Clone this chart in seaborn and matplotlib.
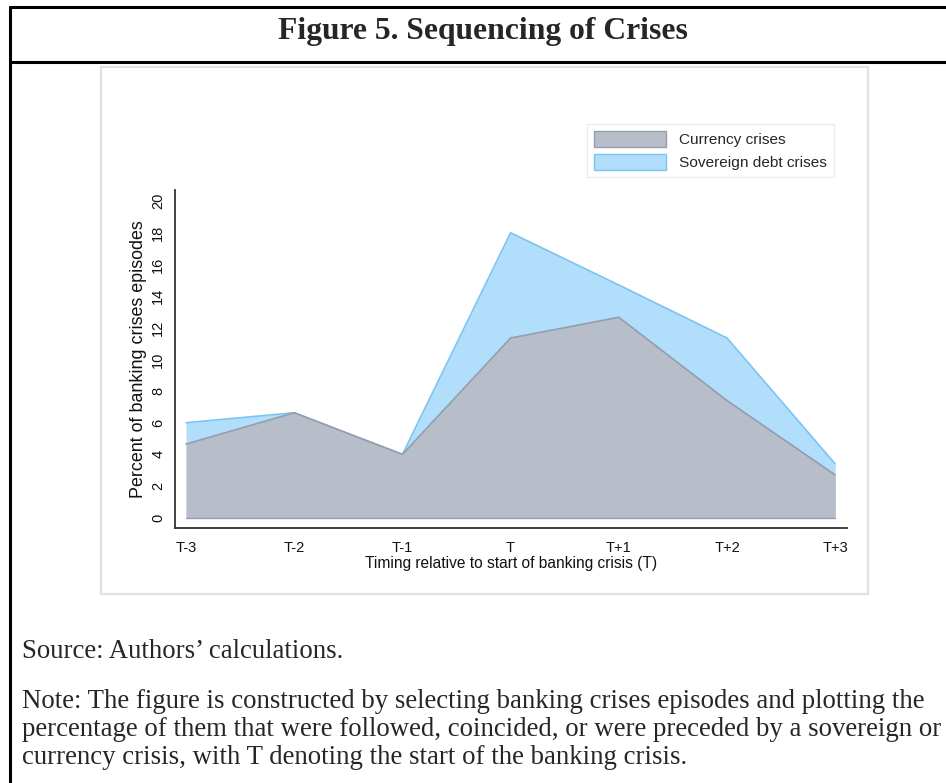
import pandas as pd
import numpy as np
import matplotlib
matplotlib.use("Agg")
import matplotlib.pyplot as plt
import seaborn as sns
from matplotlib.patches import Rectangle
from matplotlib.lines import Line2D

# Data (percent of banking crises episodes)
periods = ["T-3", "T-2", "T-1", "T", "T+1", "T+2", "T+3"]
currency = [4.65, 6.63, 4.0, 11.35, 12.66, 7.4, 2.7]
sovereign = [6.0, 6.63, 4.0, 18.0, 14.7, 11.35, 3.4]

title = "Figure 5. Sequencing of Crises"
source_txt = "Source: Authors\u2019 calculations."
note_lines = [
    "Note: The figure is constructed by selecting banking crises episodes and plotting the",
    "percentage of them that were followed, coincided, or were preceded by a sovereign or",
    "currency crisis, with T denoting the start of the banking crisis.",
]

sns.set_theme(style="white")
plt.rcParams['font.family'] = ['Liberation Sans', 'DejaVu Sans']

W, H = 946, 783
fig = plt.figure(figsize=(W / 100, H / 100), dpi=100)


def fx(px):
    return px / W


def fy(py):
    return 1 - py / H


# page frame
fig.add_artist(Line2D([fx(10), 1], [fy(7), fy(7)], color="black", lw=2.2, transform=fig.transFigure))
fig.add_artist(Line2D([fx(10), fx(10)], [fy(7), 0], color="black", lw=2.2, transform=fig.transFigure))
fig.add_artist(Line2D([fx(10), 1], [fy(62), fy(62)], color="black", lw=2.2, transform=fig.transFigure))

# graph region panel (behind the axes)
panel = Rectangle((fx(101), fy(594)), fx(868) - fx(101), fy(67) - fy(594),
                  facecolor="white", edgecolor="#dde2e6", lw=1.6, transform=fig.transFigure, zorder=-5)
fig.add_artist(panel)

fig.text(fx(483), fy(32), title, ha="center", va="center", fontsize=22.8, fontweight="bold",
         family=["Liberation Serif"])

ax = fig.add_axes([fx(175), fy(528), fx(847) - fx(175), fy(190) - fy(528)])
ax.set_facecolor("none")
ax.set_zorder(2)

df = pd.DataFrame({"x": np.arange(len(periods)), "currency": currency, "sovereign": sovereign})

sov_fill = "#b0defb"
sov_edge = "#7cc4f0"
cur_fill = "#b7bdc9"
cur_edge = "#959cac"

ax.fill_between(df["x"], 0, df["sovereign"], color=sov_fill, lw=0, zorder=1)
sns.lineplot(data=df, x="x", y="sovereign", color=sov_edge, lw=1.2, ax=ax, zorder=2)
ax.fill_between(df["x"], 0, df["currency"], color=cur_fill, lw=0, zorder=3)
sns.lineplot(data=df, x="x", y="currency", color=cur_edge, lw=1.2, ax=ax, zorder=4)
ax.plot([0, len(periods) - 1], [0, 0], color=cur_edge, lw=1.0, zorder=4)

ax.set_xlim(-0.102, 6.109)
ax.set_ylim(-0.65, 20.7)
ax.set_xticks(df["x"])
ax.set_xticklabels(periods)
ax.set_yticks(range(0, 21, 2))
ax.set_yticklabels([str(v) for v in range(0, 21, 2)], rotation=90, va="center")

for s in ["top", "right"]:
    ax.spines[s].set_visible(False)
for s in ["left", "bottom"]:
    ax.spines[s].set_color("#333333")
    ax.spines[s].set_linewidth(1.3)
ax.tick_params(axis="both", which="both", direction="out", length=5, width=1.0,
               color="#333333", labelsize=10.5, labelcolor="#111111")
ax.tick_params(axis="x", pad=4)
ax.tick_params(axis="y", pad=2)

ax.set_xlabel("Timing relative to start of banking crisis (T)", fontsize=11.2, color="#111111", labelpad=1)
ax.set_ylabel("Percent of banking crises episodes", fontsize=12.9, color="#111111", labelpad=3)

leg_handles = [Rectangle((0, 0), 1, 1, facecolor=cur_fill, edgecolor=cur_edge, lw=1.0),
               Rectangle((0, 0), 1, 1, facecolor=sov_fill, edgecolor=sov_edge, lw=1.0)]
leg = ax.legend(leg_handles, ["Currency crises", "Sovereign debt crises"],
                loc="upper left", bbox_to_anchor=(fx(587), fy(124)), bbox_transform=fig.transFigure,
                fontsize=11.1, handlelength=4.7, handleheight=1.23, handletextpad=0.8,
                labelspacing=0.45, borderpad=0.45, borderaxespad=0, frameon=True, fancybox=False)
leg.get_frame().set_edgecolor("#e3e8ec")
leg.get_frame().set_linewidth(1.0)

fig.text(fx(22), fy(652), source_txt, ha="left", va="center", fontsize=19.3, family=["Liberation Serif"])
for i, line in enumerate(note_lines):
    fig.text(fx(22), fy(702 + 28 * i), line, ha="left", va="center", fontsize=19.3,
             family=["Liberation Serif"])

fig.savefig("out.png", dpi=100)
